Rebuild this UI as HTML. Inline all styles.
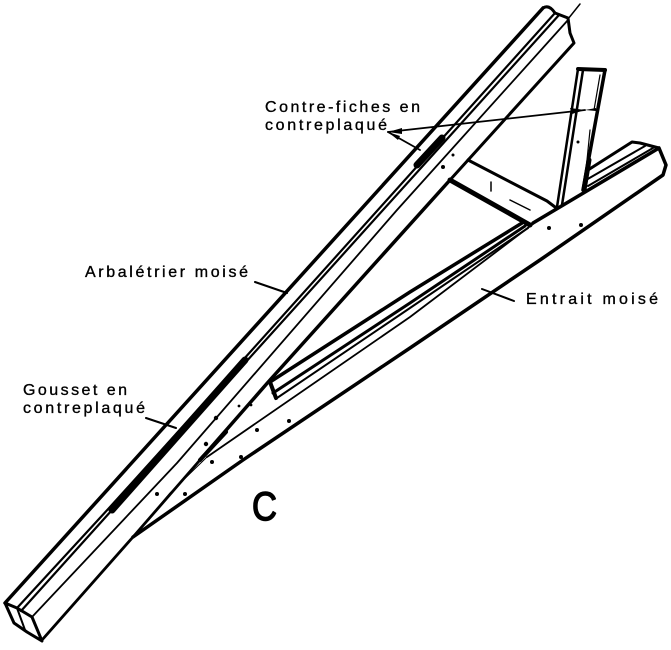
<!DOCTYPE html>
<html><head><meta charset="utf-8"><style>
html,body{margin:0;padding:0;background:#fff}
svg{display:block}
text{font-family:"Liberation Sans",sans-serif;fill:#000;font-size:16px;stroke:#000;stroke-width:.35px}
</style></head><body>
<svg width="671" height="650" viewBox="0 0 671 650" xmlns="http://www.w3.org/2000/svg" fill="none" stroke="#000" stroke-linecap="round" stroke-linejoin="round">
<!-- rafter -->
<path d="M5 603L543 8" stroke-width="3.5"/>
<path d="M543 8Q549 4 555 13L568 18L570 33L574 43L450 180" stroke-width="3"/>
<path d="M568 19L580 4" stroke-width="1.5"/>
<path d="M17 608L110 507L243 360L555 13" stroke-width="2.2"/>
<path d="M21 611L112 510L245 363L559 15" stroke-width="2.2"/>
<path d="M112 510L245 360" stroke-width="7"/>
<path d="M417 165L442 138" stroke-width="7"/>
<path d="M32 617L177 463L397 210L568 20" stroke-width="1.8"/>
<path d="M450 180L270 380L200 460" stroke-width="3.5"/>
<path d="M200 460L133 537L42 640" stroke-width="2.8"/>
<!-- rafter butt end -->
<path d="M5 603L14 623L27 632L42 641L32 617L17 608L5 603" stroke-width="3"/>
<path d="M17 608L25 630" stroke-width="2"/>
<!-- tie beam -->
<path d="M133 537L243 460L410 348L540 260L663 175L666 165L659 148L533 223" stroke-width="3.5"/>
<path d="M659 148L640 143L632 142L588 170" stroke-width="3"/>
<path d="M653 148L588 186M645 146L586 180" stroke-width="2"/>
<path d="M533 224L410 317L207 457" stroke-width="1.8"/>
<path d="M207 457L170 493L133 537" stroke-width="1"/>
<path d="M522 223L410 292L270 382" stroke-width="3.5"/>
<path d="M525 226L410 303L273 393" stroke-width="3"/>
<path d="M528 228L410 308L277 398" stroke-width="2"/>
<path d="M270 382L276 398" stroke-width="4"/>
<path d="M200 460L226 432" stroke-width="4"/>
<!-- strut -->
<path d="M578 69L605 70" stroke-width="4"/>
<path d="M605 70L583 190" stroke-width="3.5"/>
<path d="M578 69L557 207" stroke-width="2.5"/>
<path d="M583 70L562 205" stroke-width="2.5"/>
<path d="M600 75L594 110M590 130L586 170" stroke-width="1.2"/>
<path d="M589 160L584 190" stroke-width="5"/>
<!-- cross piece -->
<path d="M468 160L547 201L555 207" stroke-width="3"/>
<path d="M450 180L530 225" stroke-width="5"/>
<path d="M491 182V191M510 200L530 210" stroke-width="1.5"/>
<!-- leaders -->
<path d="M388 132L585 110" stroke-width="1.8"/>
<path d="M388 132L420 150" stroke-width="1.8"/>
<path d="M255 282L287 293M146 418L176 428M482 289L514 301" stroke-width="2"/>
<!-- nails -->
<g fill="#000" stroke="none">
<path d="M388 132L402 128L402 134ZM388 132L400 136L398 140ZM585 110L570 108L572 114ZM585 110L596 108L596 111Z"/>
<circle cx="216" cy="418" r="2.2"/><circle cx="206" cy="444" r="2.2"/><circle cx="212" cy="462" r="2"/><circle cx="157" cy="494" r="2"/><circle cx="185" cy="494" r="2"/><circle cx="241" cy="457" r="2"/><circle cx="257" cy="430" r="2"/><circle cx="289" cy="421" r="2"/><circle cx="251" cy="405" r="1.4"/><circle cx="239" cy="406" r="1.4"/><circle cx="443" cy="167" r="2"/><circle cx="453" cy="155" r="1.5"/><circle cx="585" cy="184" r="1"/><circle cx="549" cy="228" r="2"/><circle cx="581" cy="225" r="2"/><circle cx="578" cy="142" r="1.5"/>
</g>
<!-- labels -->
<g>
<text x="265" y="112" textLength="155" lengthAdjust="spacing">Contre-fiches en</text>
<text x="265" y="130" textLength="122" lengthAdjust="spacing">contreplaqué</text>
<text x="85" y="277" textLength="163" lengthAdjust="spacing">Arbalétrier moisé</text>
<text x="23" y="395" textLength="104" lengthAdjust="spacing">Gousset en</text>
<text x="23" y="413" textLength="122" lengthAdjust="spacing">contreplaqué</text>
<text x="526" y="304" textLength="132" lengthAdjust="spacing">Entrait moisé</text>
<text x="252" y="520" style="font-size:40px;stroke-width:1.4px" textLength="25" lengthAdjust="spacingAndGlyphs">C</text>
</g>
</svg>
</body></html>
